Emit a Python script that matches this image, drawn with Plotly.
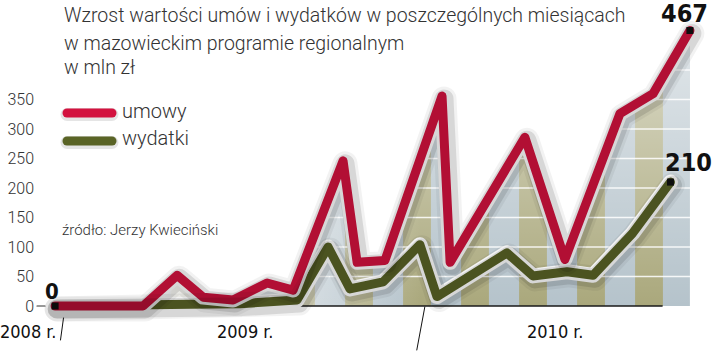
import plotly.graph_objects as go

# ---------------- data ----------------
# x = months counted from the start of January 2009 (0 = Jan 2009, 12 = Jan 2010)
months_umowy = [-0.23, 2.71, 3.85, 4.72, 5.72, 6.86, 7.73, 9.40, 9.87, 10.80,
                12.71, 12.98, 15.48, 16.82, 18.66, 19.77, 21.00]
umowy = [0, 0, 52, 15, 10, 39, 27, 246, 74, 77, 356, 74, 286, 79, 326, 360, 467]

months_wydatki = [-0.23, 2.94, 4.28, 5.95, 7.86, 8.90, 9.63, 10.74, 11.97, 12.54,
                  14.88, 15.75, 16.89, 17.76, 19.08, 20.35]
wydatki = [0, 0, 3, 4, 10, 100, 29, 41, 104, 16, 90, 51, 58, 52, 123, 210]

y_ticks = [0, 50, 100, 150, 200, 250, 300, 350]
grid_values = [50, 100, 150, 200, 250, 300, 350, 400, 450]
year_labels = ["2008 r.", "2009 r.", "2010 r."]
year_label_months = [-1.13, 6.15, 16.49]
year_dividers = [0, 12]
axis_end_month = 20.07

title_lines = ["Wzrost wartości umów i wydatków w poszczególnych miesiącach",
               "w mazowieckim programie regionalnym",
               "w mln zł"]
series_names = ["umowy", "wydatki"]
source_text = "źródło: Jerzy Kwieciński"

# ---------------- styling ----------------
RED = "#d3123f"
GREEN = "#5a6426"
KHAKI = "#aaa87c"
BLUEGREY = "#b5c3cb"
TXT = "#333333"
LIGHT_FONT = "Roboto Light, Roboto, sans-serif"
NARROW = "Liberation Sans Narrow, DejaVu Sans Condensed, Liberation Sans, sans-serif"

W, H = 720, 352
L = 40
PX_PER_MONTH = 29.9
UNITS_PER_PX = 1.695
X0_PX = 62  # pixel of month 0
x_range = [(L - X0_PX) / PX_PER_MONTH, (W - X0_PX) / PX_PER_MONTH]
BASE_PX = 306
y_range = [-(H - BASE_PX) * UNITS_PER_PX, BASE_PX * UNITS_PER_PX]


def px_x(px):
    return (px - L) / (W - L)


def px_y(py):
    return 1 - py / H


# shadow axis: shifted right 2px and down 3px
dx = 2 / PX_PER_MONTH
dy = 3 * UNITS_PER_PX
x2_range = [x_range[0] - dx, x_range[1] - dx]
y2_range = [y_range[0] + dy, y_range[1] + dy]

fig = go.Figure()

# striped shading under the "umowy" line
fig.add_trace(go.Scatter(
    x=months_umowy, y=umowy, mode="lines", line=dict(width=0), fill="tozeroy",
    fillpattern=dict(shape="|", size=58, solidity=0.48, fgcolor=KHAKI, bgcolor=BLUEGREY, fgopacity=1),
    hoverinfo="skip"))
# fade to white on the left
fig.add_trace(go.Scatter(
    x=months_umowy, y=umowy, mode="lines", line=dict(width=0), fill="tozeroy",
    fillgradient=dict(type="horizontal",
                      colorscale=[[0, "rgba(255,255,255,1)"], [1, "rgba(255,255,255,0)"]],
                      start=3.0, stop=12.0),
    hoverinfo="skip"))
# lighten toward the top
fig.add_trace(go.Scatter(
    x=months_umowy, y=umowy, mode="lines", line=dict(width=0), fill="tozeroy",
    fillgradient=dict(type="vertical",
                      colorscale=[[0, "rgba(255,255,255,0)"], [1, "rgba(255,255,255,0.6)"]],
                      start=0, stop=470),
    hoverinfo="skip"))

# white horizontal grid lines (visible only over the shading)
gx, gy = [], []
for v in grid_values:
    gx += [x_range[0], x_range[1], None]
    gy += [v, v, None]
fig.add_trace(go.Scatter(x=gx, y=gy, mode="lines",
                         line=dict(color="rgba(255,255,255,0.85)", width=1.5), hoverinfo="skip"))

# baseline
fig.add_trace(go.Scatter(x=[months_umowy[0], axis_end_month], y=[0, 0], mode="lines",
                         line=dict(color="#1a1a1a", width=1.5), hoverinfo="skip"))


def add_series(xs, ys, color):
    fig.add_trace(go.Scatter(x=xs, y=ys, mode="lines", xaxis="x2", yaxis="y2",
                             line=dict(color="rgba(0,0,0,0.05)", width=25), hoverinfo="skip"))
    fig.add_trace(go.Scatter(x=xs, y=ys, mode="lines", xaxis="x2", yaxis="y2",
                             line=dict(color="rgba(0,0,0,0.11)", width=19), hoverinfo="skip"))
    fig.add_trace(go.Scatter(x=xs, y=ys, mode="lines",
                             line=dict(color="white", width=15), hoverinfo="skip"))
    fig.add_trace(go.Scatter(x=xs, y=ys, mode="lines",
                             line=dict(color=color, width=9), hoverinfo="skip"))


add_series(months_wydatki, wydatki, GREEN)
add_series(months_umowy, umowy, RED)

# end markers
fig.add_trace(go.Scatter(
    x=[months_umowy[0], months_umowy[-1], months_wydatki[-1]],
    y=[umowy[0], umowy[-1], wydatki[-1]],
    mode="markers", marker=dict(symbol="square", size=7, color="#111111"), hoverinfo="skip"))

annotations = []
# value labels
for xv, yv, xs, ys, sz in [(months_umowy[0], umowy[0], -3, 15, 22),
                           (months_umowy[-1], umowy[-1], -5, 17, 25),
                           (months_wydatki[-1], wydatki[-1], 18, 20, 25)]:
    annotations.append(dict(x=xv, y=yv, xref="x", yref="y", text=f"<b>{yv}</b>",
                            showarrow=False, xshift=xs, yshift=ys,
                            font=dict(family=NARROW, size=sz, color="#111111")))

# title
for line, yc in zip(title_lines, [16, 43, 68]):
    annotations.append(dict(x=px_x(62), y=px_y(yc), xref="paper", yref="paper",
                            text=line, showarrow=False, xanchor="left", yanchor="middle",
                            font=dict(family=LIGHT_FONT, size=19.5, color=TXT, weight=300)))

# legend texts
for name, yc in zip(series_names, [111, 138]):
    annotations.append(dict(x=px_x(120), y=px_y(yc), xref="paper", yref="paper",
                            text=name, showarrow=False, xanchor="left", yanchor="middle",
                            font=dict(family=LIGHT_FONT, size=20, color=TXT, weight=300)))

# source
annotations.append(dict(x=px_x(60), y=px_y(230), xref="paper", yref="paper",
                        text=source_text, showarrow=False, xanchor="left", yanchor="middle",
                        font=dict(family=LIGHT_FONT, size=15, color=TXT, weight=300)))

# year labels (x given in months, converted to paper so labels left of the plot stay visible)
for lab, m in zip(year_labels, year_label_months):
    annotations.append(dict(x=px_x(X0_PX + m * PX_PER_MONTH), y=px_y(331), xref="paper", yref="paper",
                            text=lab, showarrow=False, xanchor="center", yanchor="middle",
                            font=dict(family=NARROW, size=18, color="#111111")))

shapes = []
# legend swatches
for color, yc in zip([RED, GREEN], [113, 141]):
    shapes.append(dict(type="line", xref="paper", yref="paper",
                       x0=px_x(67), x1=px_x(112), y0=px_y(yc + 1.5), y1=px_y(yc + 1.5),
                       line=dict(color="rgba(0,0,0,0.10)", width=13), layer="above"))
    shapes.append(dict(type="line", xref="paper", yref="paper",
                       x0=px_x(67), x1=px_x(112), y0=px_y(yc), y1=px_y(yc),
                       line=dict(color=color, width=9), layer="above"))
# year dividers (slanted)
for m, top, bot, lean in zip(year_dividers, [318, 307], [340, 350], [3, 8]):
    shapes.append(dict(type="line", xref="x", yref="paper",
                       x0=m + (lean / 2) / PX_PER_MONTH, y0=px_y(top),
                       x1=m - (lean / 2) / PX_PER_MONTH, y1=px_y(bot),
                       line=dict(color="#111111", width=1)))
# tick at 0
shapes.append(dict(type="line", xref="paper", yref="y", x0=px_x(37), x1=px_x(45), y0=0, y1=0,
                   line=dict(color="#333333", width=1.2)))

fig.update_layout(
    width=W, height=H, margin=dict(l=L, r=0, t=0, b=0),
    paper_bgcolor="white", plot_bgcolor="white", showlegend=False,
    xaxis=dict(range=x_range, visible=False, fixedrange=True),
    yaxis=dict(range=y_range, tickvals=y_ticks, showgrid=False, zeroline=False,
               showline=False, ticks="", fixedrange=True, ticklabelstandoff=5,
               tickfont=dict(family=LIGHT_FONT, size=16, color=TXT, weight=300)),
    xaxis2=dict(range=x2_range, overlaying="x", visible=False, fixedrange=True),
    yaxis2=dict(range=y2_range, overlaying="y", visible=False, fixedrange=True),
    annotations=annotations, shapes=shapes,
)

post = """
var gd = document.getElementById('{plot_id}');
function fixJoins(){
  gd.querySelectorAll('.scatterlayer .js-line, .shapelayer path').forEach(function(p){
    p.style.strokeLinejoin = 'round';
    p.style.strokeLinecap = 'round';
  });
}
fixJoins();
gd.on('plotly_afterplot', fixJoins);
"""

fig.write_html("out.html", post_script=post, config={"displayModeBar": False})
